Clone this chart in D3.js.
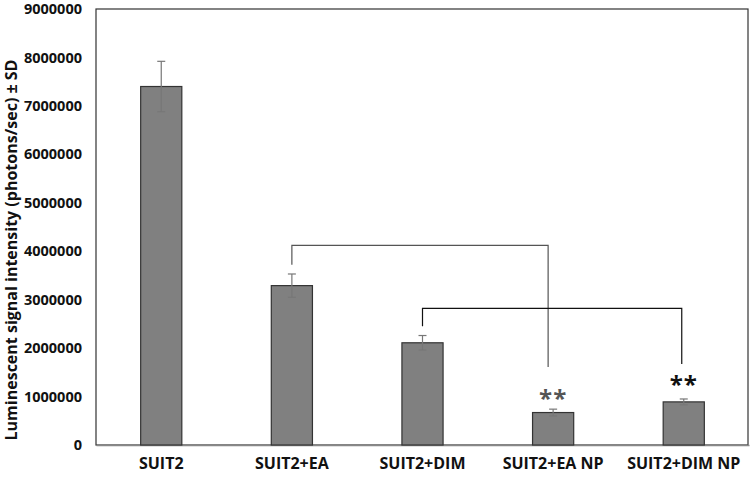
<!DOCTYPE html>
<html>
<head>
<meta charset="utf-8">
<script src="https://cdn.jsdelivr.net/npm/d3@7"></script>
<style>
  body { margin: 0; background: #fff; }
  svg text { font-family: "Open Sans", "Liberation Sans", sans-serif; font-weight: bold; }
</style>
</head>
<body>
<div id="chart"></div>
<script>
// data
const groups = ["SUIT2", "SUIT2+EA", "SUIT2+DIM", "SUIT2+EA NP", "SUIT2+DIM NP"];
const means = [7400000, 3290000, 2110000, 670000, 890000];
const sds = [520000, 240000, 150000, 70000, 60000];
const yTicks = [0, 1000000, 2000000, 3000000, 4000000, 5000000, 6000000, 7000000, 8000000, 9000000];
// brackets: from group -> to group, level of the bar, start of the left leg, end of the right leg
const brackets = [
  { from: "SUIT2+EA", to: "SUIT2+EA NP", top: 4120000, startY: 3720000, endY: 1610000 },
  { from: "SUIT2+DIM", to: "SUIT2+DIM NP", top: 2820000, startY: 2450000, endY: 1670000 }
];
const stars = [
  { group: "SUIT2+EA NP", at: 780000, color: "#555" },
  { group: "SUIT2+DIM NP", at: 1070000, color: "#111" }
];

const W = 750, H = 477;
const m = { left: 96, right: 1, top: 9, bottom: 32 };

const svg = d3.select("#chart").append("svg")
  .attr("width", W).attr("height", H);

const x = d3.scaleBand().domain(groups)
  .range([m.left, W - m.right]).paddingInner(0.685).paddingOuter(0.342);
const y = d3.scaleLinear().domain([0, 9000000]).range([H - m.bottom, m.top]);

// plot frame
svg.append("rect")
  .attr("x", m.left).attr("y", m.top)
  .attr("width", W - m.right - m.left - 1).attr("height", H - m.bottom - m.top)
  .attr("fill", "none").attr("stroke", "#333").attr("stroke-width", 1.2);

// y axis
const yAxis = svg.append("g")
  .attr("transform", `translate(${m.left},0)`)
  .call(d3.axisLeft(y).tickValues(yTicks).tickSize(0).tickPadding(14).tickFormat(d3.format("d")));
yAxis.select(".domain").remove();
yAxis.selectAll("text").attr("font-size", "14.5px").attr("fill", "#111");

// x axis
const xAxis = svg.append("g")
  .attr("transform", `translate(0,${H - m.bottom})`)
  .call(d3.axisBottom(x).tickSize(0).tickPadding(13));
xAxis.select(".domain").attr("stroke", "#888").attr("stroke-width", 1.5);
xAxis.selectAll("text").attr("font-size", "16px").attr("fill", "#111");

// y title
svg.append("text")
  .attr("transform", `translate(17,250) rotate(-90)`)
  .attr("text-anchor", "middle")
  .attr("font-size", "16px")
  .attr("fill", "#111")
  .text("Luminescent signal intensity (photons/sec) ± SD");

// bars
svg.selectAll("rect.bar").data(groups).join("rect")
  .attr("class", "bar")
  .attr("x", d => x(d))
  .attr("width", x.bandwidth())
  .attr("y", (d, i) => y(means[i]))
  .attr("height", (d, i) => y(0) - y(means[i]))
  .attr("fill", "#808080")
  .attr("stroke", "#333")
  .attr("stroke-width", 1.2);

// error bars
const cx = d => x(d) + x.bandwidth() / 2;
const eb = svg.append("g").attr("stroke", "#777").attr("stroke-width", 1.2);
groups.forEach((g, i) => {
  eb.append("line").attr("x1", cx(g)).attr("x2", cx(g))
    .attr("y1", y(means[i] - sds[i])).attr("y2", y(means[i] + sds[i]));
  [means[i] - sds[i], means[i] + sds[i]].forEach(v => {
    eb.append("line").attr("x1", cx(g) - 4).attr("x2", cx(g) + 4)
      .attr("y1", y(v)).attr("y2", y(v));
  });
});

// significance brackets
const line = d3.line();
brackets.forEach((b, i) => {
  const xr = cx(b.to) - (i === 0 ? 5 : 2);
  svg.append("path")
    .attr("d", line([
      [cx(b.from), y(b.startY)], [cx(b.from), y(b.top)],
      [xr, y(b.top)], [xr, y(b.endY)]
    ]))
    .attr("fill", "none")
    .attr("stroke", i === 0 ? "#555" : "#111")
    .attr("stroke-width", 1.2);
});

// stars
svg.selectAll("text.star").data(stars).join("text")
  .attr("class", "star")
  .attr("x", d => cx(d.group))
  .attr("y", d => y(d.at))
  .attr("text-anchor", "middle")
  .attr("font-size", "24px")
  .attr("font-weight", "normal")
  .attr("letter-spacing", "1px")
  .attr("fill", d => d.color)
  .text("**");
</script>
</body>
</html>
